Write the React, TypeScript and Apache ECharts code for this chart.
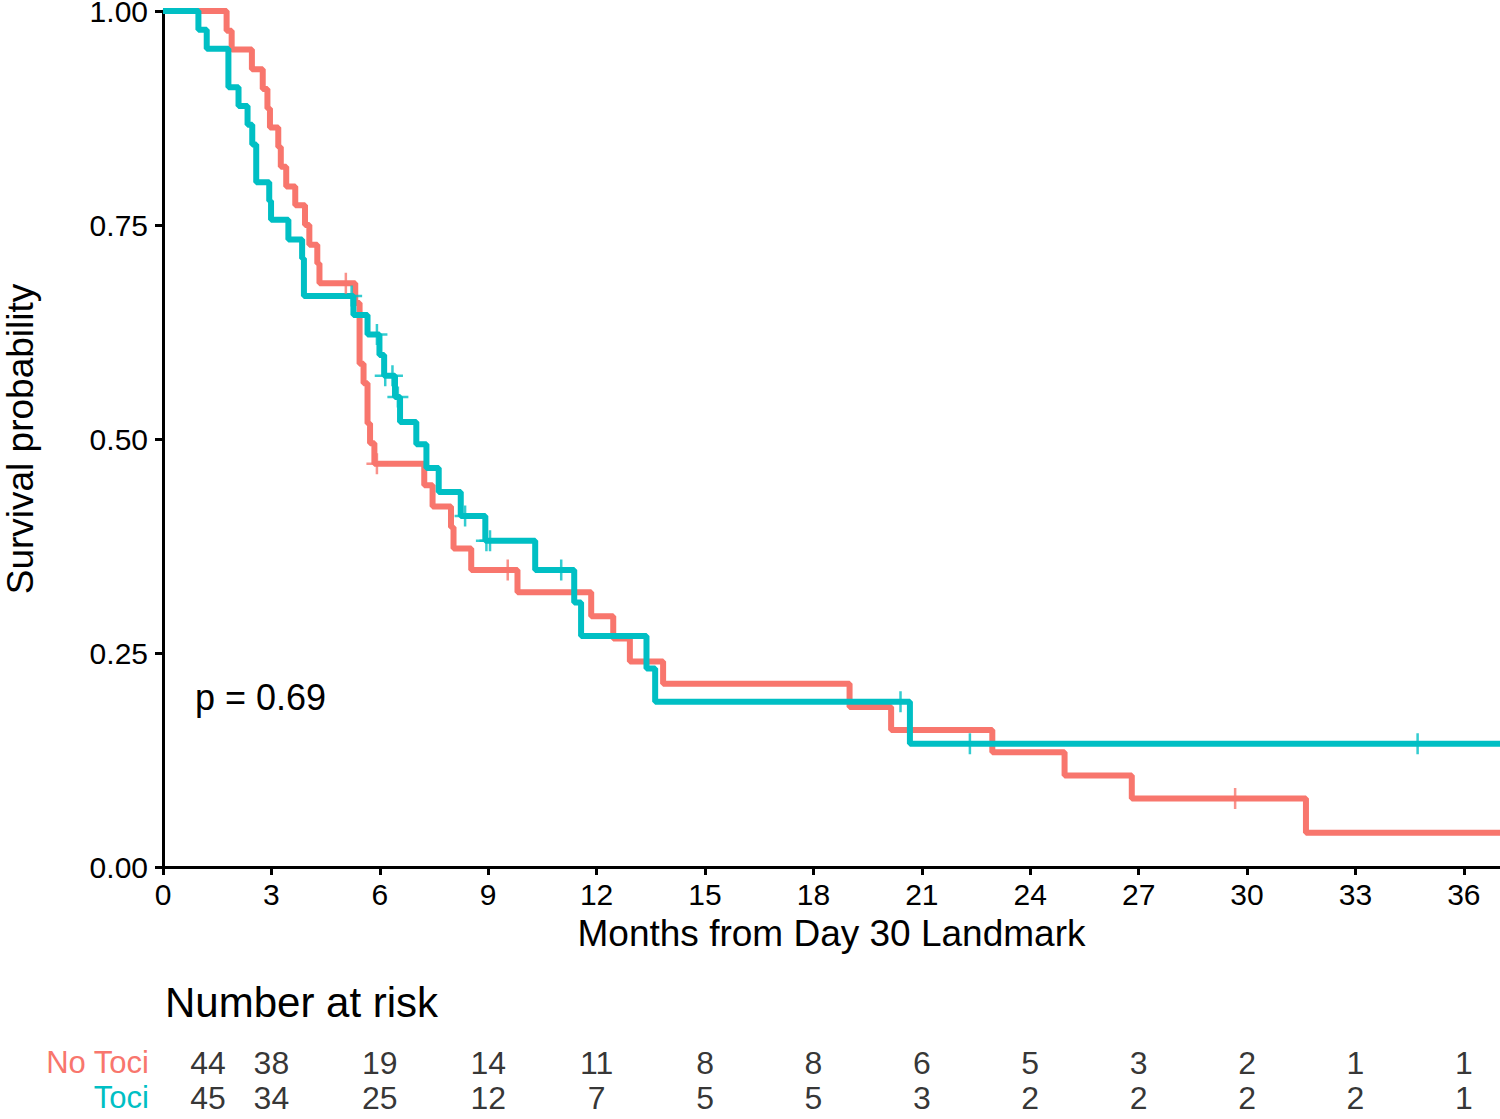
import React, { useEffect, useRef } from "react";
import * as echarts from "echarts";

const RED = "#F8766D";
const TEAL = "#00BFC4";

// Kaplan-Meier steps [months, survival]
const noTociSteps: number[][] = [
  [0, 1.0], [1.76, 0.977], [1.9, 0.955], [2.46, 0.932], [2.76, 0.909], [2.89, 0.886],
  [2.96, 0.864], [3.19, 0.841], [3.26, 0.818], [3.41, 0.795], [3.66, 0.773], [3.93, 0.75],
  [4.05, 0.727], [4.27, 0.705], [4.33, 0.682], [5.32, 0.659], [5.44, 0.588], [5.55, 0.565],
  [5.66, 0.518], [5.73, 0.495], [5.85, 0.471], [7.23, 0.446], [7.46, 0.421], [7.97, 0.397],
  [8.04, 0.372], [8.53, 0.347], [9.81, 0.321], [11.85, 0.293], [12.46, 0.267], [12.92, 0.24],
  [13.84, 0.214], [19.0, 0.187], [20.15, 0.16], [22.95, 0.134], [24.95, 0.107], [26.81, 0.08],
  [31.63, 0.04], [37, 0.04],
];
const tociSteps: number[][] = [
  [0, 1.0], [0.98, 0.978], [1.21, 0.956], [1.81, 0.911], [2.09, 0.889], [2.34, 0.867],
  [2.47, 0.844], [2.58, 0.8], [2.94, 0.778], [2.99, 0.756], [3.47, 0.733], [3.85, 0.711],
  [3.9, 0.667], [5.27, 0.645], [5.66, 0.622], [5.99, 0.598], [6.12, 0.574], [6.42, 0.549],
  [6.56, 0.52], [7.01, 0.494], [7.29, 0.466], [7.63, 0.438], [8.24, 0.41], [8.92, 0.381],
  [10.3, 0.347], [11.38, 0.309], [11.57, 0.27], [13.38, 0.232], [13.62, 0.193], [20.67, 0.144],
  [37, 0.144],
];
const noTociCensor: number[][] = [[5.06, 0.682], [5.92, 0.471], [9.54, 0.347], [29.67, 0.08]];
const tociCensor: number[][] = [
  [5.22, 0.667], [5.92, 0.622], [6.15, 0.574], [6.35, 0.574], [6.5, 0.549], [8.36, 0.41],
  [8.95, 0.381], [9.05, 0.381], [11.02, 0.347], [20.41, 0.193], [22.33, 0.144], [34.72, 0.144],
];

const riskTimes = [0, 3, 6, 9, 12, 15, 18, 21, 24, 27, 30, 33, 36];
const noTociRisk = [44, 38, 19, 14, 11, 8, 8, 6, 5, 3, 2, 1, 1];
const tociRisk = [45, 34, 25, 12, 7, 5, 5, 3, 2, 2, 2, 2, 1];
const groups = ["No Toci", "Toci"];

const FONT = "'Liberation Sans', Arial, Helvetica, sans-serif";
const PLUS = "path://M10,0 L10,20 M0,10 L20,10";

export default function App() {
  const ref = useRef<HTMLDivElement>(null);
  useEffect(() => {
    document.body.style.margin = "0";
    const chart = echarts.init(ref.current!, null, { renderer: "svg" });
    const riskSeries = (name: string, vals: number[]) => ({
      type: "scatter",
      xAxisIndex: 1,
      yAxisIndex: 1,
      symbolSize: 0,
      silent: true,
      data: riskTimes.map((t, i) => ({
        value: [t, name, vals[i]],
        label: i === 0 ? { offset: [45, 0] } : undefined,
      })),
      label: {
        show: true,
        position: "inside",
        formatter: (p: any) => String(p.value[2]),
        fontSize: 32,
        color: "#000",
        fontFamily: FONT,
      },
    });
    const censor = (data: number[][], color: string) => ({
      type: "scatter",
      data,
      symbol: PLUS,
      symbolSize: 21,
      itemStyle: { color: "none", borderColor: color, borderWidth: 2.5 },
      z: 5,
    });
    chart.setOption({
      animation: false,
      textStyle: { fontFamily: FONT },
      grid: [
        { left: 163, right: 0, top: 11, bottom: 252, containLabel: false, outerBoundsMode: "none" },
        { left: 163, right: 0, top: 1045, height: 70, containLabel: false, outerBoundsMode: "none" },
      ],
      xAxis: [
        {
          type: "value",
          gridIndex: 0,
          min: 0,
          max: 37,
          interval: 3,
          splitLine: { show: false },
          axisLine: { show: true, onZero: false, lineStyle: { color: "#000", width: 3 } },
          axisTick: { show: true, length: 8, lineStyle: { color: "#000", width: 3 } },
          axisLabel: { fontSize: 30, color: "#000", margin: 12, showMaxLabel: false },
          name: "Months from Day 30 Landmark",
          nameLocation: "middle",
          nameGap: 48,
          nameTextStyle: { fontSize: 37, color: "#000" },
        },
        { type: "value", gridIndex: 1, min: 0, max: 37, show: false },
      ],
      yAxis: [
        {
          type: "value",
          gridIndex: 0,
          min: 0,
          max: 1,
          interval: 0.25,
          splitLine: { show: false },
          axisLine: { show: true, lineStyle: { color: "#000", width: 3 } },
          axisTick: { show: true, length: 8, lineStyle: { color: "#000", width: 3 } },
          axisLabel: {
            fontSize: 30,
            color: "#000",
            margin: 15,
            formatter: (v: number) => v.toFixed(2),
          },
          name: "Survival probability",
          nameLocation: "middle",
          nameGap: 124,
          nameTextStyle: { fontSize: 37, color: "#000" },
        },
        {
          type: "category",
          gridIndex: 1,
          data: groups,
          inverse: true,
          axisLine: { show: false },
          axisTick: { show: false },
          splitLine: { show: false },
          axisLabel: {
            interval: 0,
            fontSize: 31,
            margin: 14,
            color: (v: string) => (v === "No Toci" ? RED : TEAL),
          },
        },
      ],
      series: [
        {
          type: "line",
          name: "No Toci",
          step: "end",
          data: noTociSteps,
          showSymbol: false,
          lineStyle: { color: RED, width: 6 },
          z: 2,
        },
        {
          type: "line",
          name: "Toci",
          step: "end",
          data: tociSteps,
          showSymbol: false,
          lineStyle: { color: TEAL, width: 6 },
          z: 3,
        },
        censor(noTociCensor, RED),
        censor(tociCensor, TEAL),
        riskSeries("No Toci", noTociRisk),
        riskSeries("Toci", tociRisk),
      ],
      graphic: [
        {
          type: "text",
          left: 195,
          top: 679,
          style: { text: "p = 0.69", fontSize: 36, fill: "#000", fontFamily: FONT },
        },
        {
          type: "text",
          left: 165,
          top: 981,
          style: { text: "Number at risk", fontSize: 42, fill: "#000", fontFamily: FONT },
        },
      ],
    });
    return () => chart.dispose();
  }, []);
  return <div ref={ref} style={{ width: 1500, height: 1119 }} />;
}
